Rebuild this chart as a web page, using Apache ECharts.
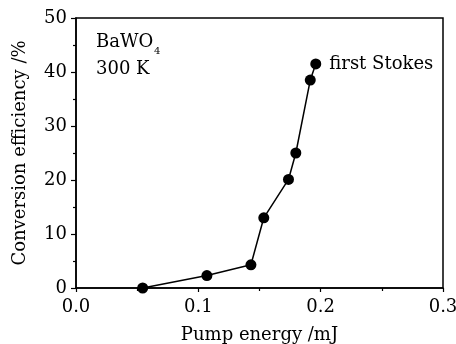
<!DOCTYPE html>
<html><head><meta charset="utf-8">
<script src="https://cdn.jsdelivr.net/npm/echarts@6/dist/echarts.min.js"></script>
<style>html,body{margin:0;padding:0;background:#fff}#c{width:456px;height:344px}</style>
</head><body><div id="c"></div>
<script>
var pumpEnergy = [0.0545, 0.107, 0.143, 0.1535, 0.1737, 0.1797, 0.1915, 0.196];
var efficiency = [0, 2.3, 4.3, 13.0, 20.1, 25.0, 38.5, 41.5];
var xTicks = ['0.0', '0.1', '0.2', '0.3'];
var yTicks = ['0', '10', '20', '30', '40', '50'];
var seriesLabel = 'first Stokes';
var FONT = 'DejaVu Serif';
var chart = echarts.init(document.getElementById('c'));
chart.setOption({
  animation: false,
  backgroundColor: '#fff',
  grid: {left: 76, right: 13, top: 18, bottom: 56, show: true, borderColor: '#000', borderWidth: 1.5,
    backgroundColor: 'transparent', containLabel: false, outerBoundsMode: 'none'},
  xAxis: {
    type: 'value', min: 0, max: 0.3, interval: 0.1,
    name: 'Pump energy /mJ', nameLocation: 'middle', nameGap: 38,
    nameTextStyle: {fontFamily: FONT, fontSize: 18, color: '#000'},
    axisLine: {lineStyle: {color: '#000', width: 1.5}},
    axisTick: {inside: false, length: 4, lineStyle: {color: '#000', width: 1.2}},
    minorTick: {show: true, splitNumber: 2, length: 3, lineStyle: {color: '#000', width: 1.2}},
    splitLine: {show: false},
    axisLabel: {fontFamily: FONT, fontSize: 18, color: '#000', margin: 10,
      formatter: function (v) { return xTicks[Math.round(v * 10)]; }}
  },
  yAxis: {
    type: 'value', min: 0, max: 50, interval: 10,
    name: 'Conversion efficiency /%', nameLocation: 'middle', nameGap: 47, nameRotate: 90,
    nameTextStyle: {fontFamily: FONT, fontSize: 18, color: '#000'},
    axisLine: {lineStyle: {color: '#000', width: 1.5}},
    axisTick: {inside: false, length: 5, lineStyle: {color: '#000', width: 1.2}},
    minorTick: {show: true, splitNumber: 2, length: 3, lineStyle: {color: '#000', width: 1.2}},
    splitLine: {show: false},
    axisLabel: {fontFamily: FONT, fontSize: 18, color: '#000', margin: 9,
      formatter: function (v) { return yTicks[Math.round(v / 10)]; }}
  },
  series: [{
    type: 'line',
    data: pumpEnergy.map(function (x, i) {
      var p = {value: [x, efficiency[i]]};
      if (i === pumpEnergy.length - 1) {
        p.label = {show: true, position: 'right', distance: 8, formatter: seriesLabel,
          fontFamily: FONT, fontSize: 18, color: '#000'};
      }
      return p;
    }),
    symbol: 'circle', symbolSize: 11,
    itemStyle: {color: '#000'},
    lineStyle: {color: '#000', width: 1.5},
    label: {show: false},
    clip: false
  }],
  graphic: [
    {type: 'text', left: 96, top: 33, style: {text: 'BaWO', font: '18px "DejaVu Serif"', fill: '#000'}},
    {type: 'text', left: 154, top: 46, style: {text: '4', font: '10px "DejaVu Serif"', fill: '#000'}},
    {type: 'text', left: 96, top: 60, style: {text: '300 K', font: '18px "DejaVu Serif"', fill: '#000'}}
  ]
});
</script></body></html>
